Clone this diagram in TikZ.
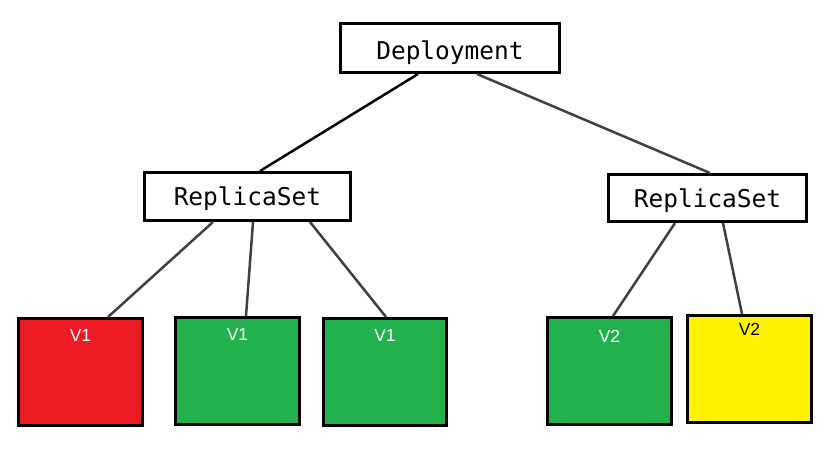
\documentclass[tikz,border=0pt]{standalone}
\usepackage{fontspec}
\setmainfont{Liberation Sans}
\newfontfamily\monofont{DejaVu Sans Mono}
\definecolor{podred}{HTML}{ED1C24}
\definecolor{podgreen}{HTML}{22B14C}
\definecolor{podyellow}{HTML}{FFF200}
\definecolor{linkgray}{HTML}{404040}
\tikzset{
  ctrl/.style={draw=black, line width=3pt, fill=white, inner sep=0pt,
               font=\monofont\fontsize{24.5}{26}\selectfont,
               text depth=0pt, text height=18pt},
  pod/.style={draw=black, line width=3pt, minimum width=124pt,
              minimum height=107pt, inner sep=0pt},
  ver/.style={font=\fontsize{17.5}{19}\selectfont, text=white,
              inner sep=0pt, anchor=base},
  link/.style={draw=linkgray, line width=2.5pt}
}

\begin{document}
\begin{tikzpicture}[x=1pt,y=-1pt]% 1pt = 1px, y down like the screen
  \useasboundingbox (0,0) rectangle (833,458);

  % the controllers
  \node[ctrl, minimum width=219pt, minimum height=49pt, text height=23.5pt] (dep) at (450,48) {Deployment};
  \node[ctrl, minimum width=206pt, minimum height=48pt] (rsl) at (247.5,196.5) {ReplicaSet};
  \node[ctrl, minimum width=198pt, minimum height=47pt] (rsr) at (707.5,198) {ReplicaSet};

  % the pods, old version on the left
  \node[pod, fill=podred,
        label={[ver, yshift=-24.5pt]north:V1}] (red) at (80.5,372) {};
  \node[pod, fill=podgreen,
        label={[ver, yshift=-24.5pt]north:V1}] (gra) at (237.5,371) {};
  \node[pod, fill=podgreen, minimum width=123pt,
        label={[ver, yshift=-24.5pt]north:V1}] (grb) at (385,372) {};
  % new version on the right
  \node[pod, fill=podgreen,
        label={[ver, yshift=-26.5pt]north:V2}] (grc) at (609.5,371) {};
  \node[pod, fill=podyellow,
        label={[ver, text=black, yshift=-21.5pt]north:V2}] (yel) at (749.5,369) {};

  % links
  \draw[link, draw=black] ([xshift=-32pt]dep.south) -- ([xshift=12.5pt]rsl.north);
  \draw[link] ([xshift=27pt]dep.south) -- ([xshift=2.5pt]rsr.north);
  \draw[link] ([xshift=-34.5pt]rsl.south) -- ([xshift=27.5pt]red.north);
  \draw[link] ([xshift=5.5pt]rsl.south) -- ([xshift=8.5pt]gra.north);
  \draw[link] ([xshift=62.5pt]rsl.south) -- ([xshift=1pt]grb.north);
  \draw[link] ([xshift=-32.5pt]rsr.south) -- ([xshift=3.5pt]grc.north);
  \draw[link] ([xshift=15.5pt]rsr.south) -- ([xshift=-7.5pt]yel.north);

\end{tikzpicture}
\end{document}
